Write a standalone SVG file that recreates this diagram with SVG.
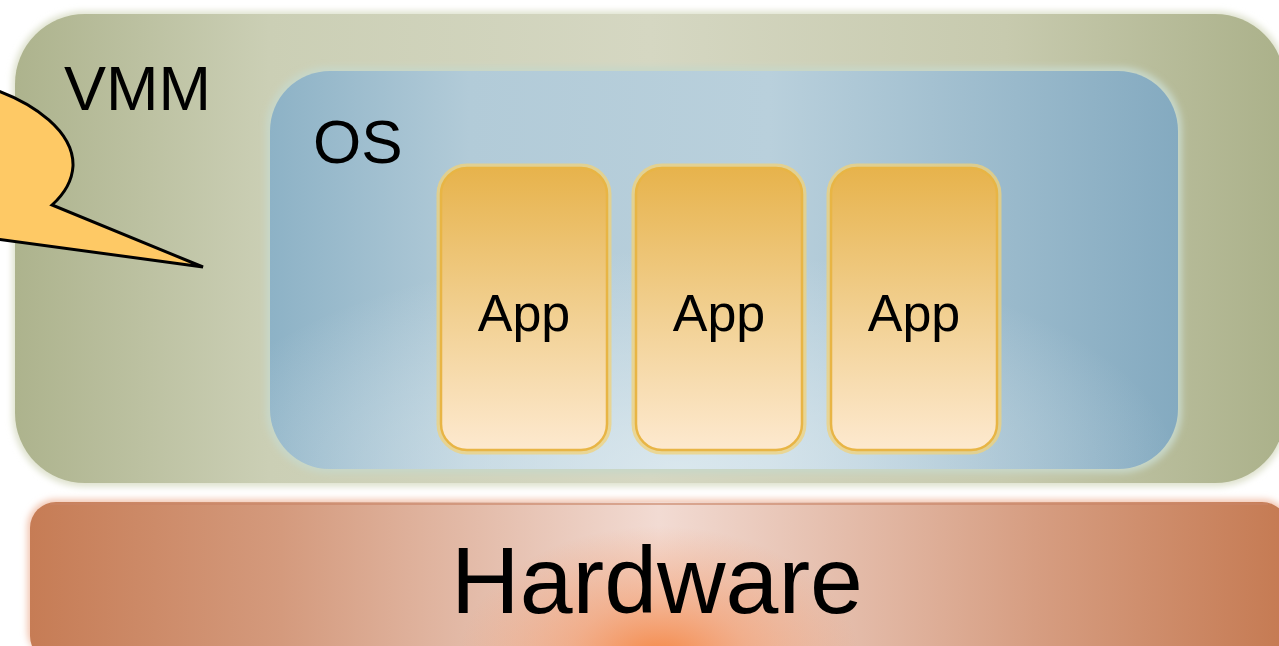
<svg xmlns="http://www.w3.org/2000/svg" width="1279" height="646" viewBox="0 0 1279 646">
  <defs>
    <linearGradient id="vmmFill" x1="0" y1="0" x2="1" y2="0">
      <stop offset="0" stop-color="#adb38d"/>
      <stop offset="0.2" stop-color="#cbcfb5"/>
      <stop offset="0.5" stop-color="#d5d7c2"/>
      <stop offset="0.78" stop-color="#c7caae"/>
      <stop offset="1" stop-color="#abb18a"/>
    </linearGradient>
    <linearGradient id="osFill" x1="0" y1="0" x2="1" y2="0">
      <stop offset="0" stop-color="#8db2c6"/>
      <stop offset="0.22" stop-color="#b2cbd8"/>
      <stop offset="0.55" stop-color="#b9d0dc"/>
      <stop offset="1" stop-color="#84aac0"/>
    </linearGradient>
    <radialGradient id="osHaze" cx="0.45" cy="1" r="0.55">
      <stop offset="0" stop-color="#e2edf2" stop-opacity="0.8"/>
      <stop offset="1" stop-color="#e2edf2" stop-opacity="0"/>
    </radialGradient>
    <linearGradient id="appFill" x1="0" y1="0" x2="0" y2="1">
      <stop offset="0" stop-color="#e7b34c"/>
      <stop offset="0.5" stop-color="#f1cf8f"/>
      <stop offset="1" stop-color="#fde9cf"/>
    </linearGradient>
    <linearGradient id="hwFill" x1="0" y1="0" x2="1" y2="0">
      <stop offset="0" stop-color="#c67c55"/>
      <stop offset="0.2" stop-color="#d49a7d"/>
      <stop offset="0.5" stop-color="#f2dbd3"/>
      <stop offset="0.8" stop-color="#d69d81"/>
      <stop offset="1" stop-color="#c57a52"/>
    </linearGradient>
    <radialGradient id="hwGlow" cx="0.5" cy="1" r="0.5" gradientTransform="translate(0.5 1) scale(0.32 1.7) translate(-0.5 -1)">
      <stop offset="0" stop-color="#f5843f" stop-opacity="1"/>
      <stop offset="0.45" stop-color="#f59560" stop-opacity="0.55"/>
      <stop offset="1" stop-color="#f59a6a" stop-opacity="0"/>
    </radialGradient>
    <filter id="soft" x="-5%" y="-5%" width="110%" height="110%">
      <feGaussianBlur stdDeviation="3"/>
    </filter>
  </defs>
  <style>
    .label { font-family: "Liberation Sans", Arial, sans-serif; fill: #000000; }
    .app-box { fill: url(#appFill); stroke: #e8b545; stroke-width: 2.5; }
    .app-halo { fill: none; stroke: #f0d27a; stroke-width: 9; opacity: 0.75; }
  </style>

  <rect width="1279" height="646" fill="#ffffff"/>

  <!-- VMM layer -->
  <g id="vmm">
    <rect x="12" y="11" width="1276" height="476" rx="72" fill="#dfe2cf" filter="url(#soft)"/>
    <rect x="15" y="14" width="1270" height="469" rx="70" fill="url(#vmmFill)"/>
    <text class="label" x="64" y="110" font-size="63">VMM</text>
  </g>

  <!-- Hardware layer -->
  <g id="hardware">
    <rect x="27" y="499" width="1264" height="160" rx="28" fill="#f3c9b6" filter="url(#soft)"/>
    <rect x="30" y="502" width="1258" height="160" rx="26" fill="url(#hwFill)"/>
    <rect x="30" y="502" width="1258" height="160" rx="26" fill="url(#hwGlow)"/>
    <line x1="50" y1="504" x2="1268" y2="504" stroke="#c98466" stroke-width="2" opacity="0.6"/>
    <text class="label" x="657" y="613" font-size="95" text-anchor="middle">Hardware</text>
  </g>

  <!-- OS layer -->
  <g id="os">
    <rect x="266" y="67" width="916" height="406" rx="62" fill="#c7d7c8" filter="url(#soft)"/>
    <rect x="270" y="71" width="908" height="398" rx="60" fill="url(#osFill)"/>
    <rect x="270" y="71" width="908" height="398" rx="60" fill="url(#osHaze)"/>
    <text class="label" x="313" y="163" font-size="62">OS</text>
  </g>

  <!-- Applications -->
  <g id="app1">
    <rect class="app-halo" x="441" y="168" width="166" height="282" rx="26"/>
    <rect class="app-box" x="441" y="168" width="166" height="282" rx="26"/>
    <text class="label" x="524" y="331" font-size="52" text-anchor="middle">App</text>
  </g>
  <g id="app2">
    <rect class="app-halo" x="636" y="168" width="166" height="282" rx="26"/>
    <rect class="app-box" x="636" y="168" width="166" height="282" rx="26"/>
    <text class="label" x="719" y="331" font-size="52" text-anchor="middle">App</text>
  </g>
  <g id="app3">
    <rect class="app-halo" x="831" y="168" width="166" height="282" rx="26"/>
    <rect class="app-box" x="831" y="168" width="166" height="282" rx="26"/>
    <text class="label" x="914" y="331" font-size="52" text-anchor="middle">App</text>
  </g>

  <!-- Speech callout pointing into the VMM layer -->
  <g id="connectors">
    <path d="M -10,88 C 35,103 74,132 73,166 C 72,184 62,196 52,205 L 203,267 C 130,257 60,248 -10,238 Z"
          fill="#fec965" stroke="#000000" stroke-width="3" stroke-linejoin="miter"/>
  </g>
</svg>
